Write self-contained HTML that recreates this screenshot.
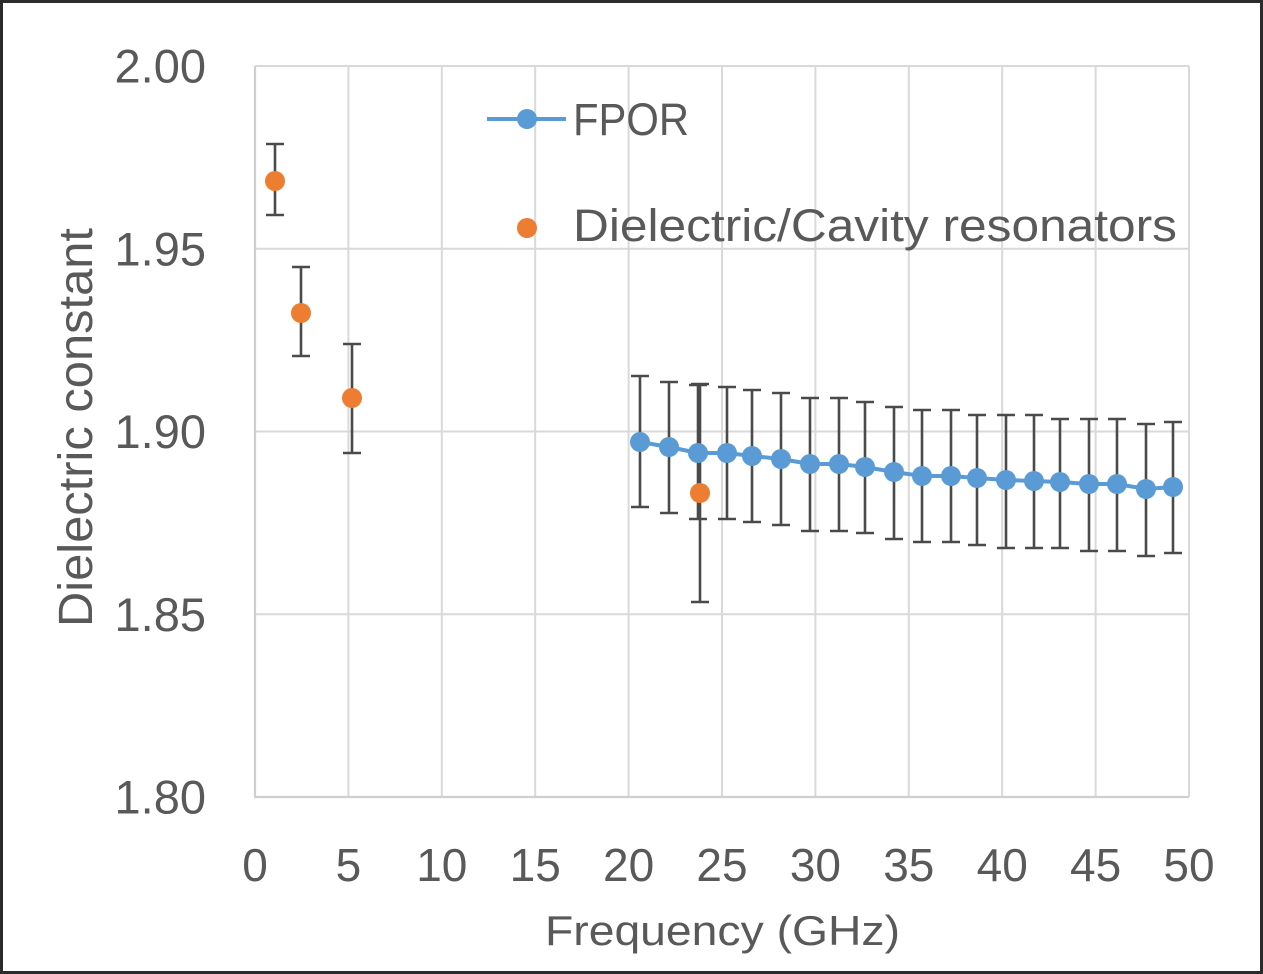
<!DOCTYPE html>
<html>
<head>
<meta charset="utf-8">
<style>
  html, body { margin: 0; padding: 0; background: #fff; }
  body { width: 1263px; height: 974px; overflow: hidden; }
  svg { display: block; }
  text { font-family: "Liberation Sans", sans-serif; fill: #595959; }
</style>
</head>
<body>
<svg width="1263" height="974" viewBox="0 0 1263 974" xmlns="http://www.w3.org/2000/svg">
  <rect x="0" y="0" width="1263" height="974" fill="#ffffff"/>
  <rect x="1.5" y="1.5" width="1260" height="971" fill="none" stroke="#2b2b2b" stroke-width="3"/>

  <!-- gridlines -->
  <g stroke="#d9d9d9" stroke-width="2" fill="none">
    <line x1="255" y1="66" x2="1189" y2="66"/>
    <line x1="255" y1="248.75" x2="1189" y2="248.75"/>
    <line x1="255" y1="431.5" x2="1189" y2="431.5"/>
    <line x1="255" y1="614.25" x2="1189" y2="614.25"/>
    <line x1="348.4" y1="66" x2="348.4" y2="797"/>
    <line x1="441.8" y1="66" x2="441.8" y2="797"/>
    <line x1="535.2" y1="66" x2="535.2" y2="797"/>
    <line x1="628.6" y1="66" x2="628.6" y2="797"/>
    <line x1="722" y1="66" x2="722" y2="797"/>
    <line x1="815.4" y1="66" x2="815.4" y2="797"/>
    <line x1="908.8" y1="66" x2="908.8" y2="797"/>
    <line x1="1002.2" y1="66" x2="1002.2" y2="797"/>
    <line x1="1095.6" y1="66" x2="1095.6" y2="797"/>
    <line x1="1189" y1="66" x2="1189" y2="797"/>
  </g>
  <g stroke="#cfcfcf" stroke-width="2.2" fill="none">
    <line x1="255" y1="66" x2="255" y2="797"/>
    <line x1="254" y1="797" x2="1189" y2="797"/>
  </g>

  <!-- y tick labels -->
  <g font-size="47" text-anchor="end">
    <text x="206" y="82.5">2.00</text>
    <text x="206" y="265.25">1.95</text>
    <text x="206" y="448">1.90</text>
    <text x="206" y="630.75">1.85</text>
    <text x="206" y="813.5">1.80</text>
  </g>

  <!-- x tick labels -->
  <g font-size="46" text-anchor="middle">
    <text x="255" y="881">0</text>
    <text x="348.4" y="881">5</text>
    <text x="441.8" y="881">10</text>
    <text x="535.2" y="881">15</text>
    <text x="628.6" y="881">20</text>
    <text x="722" y="881">25</text>
    <text x="815.4" y="881">30</text>
    <text x="908.8" y="881">35</text>
    <text x="1002.2" y="881">40</text>
    <text x="1095.6" y="881">45</text>
    <text x="1189" y="881">50</text>
  </g>

  <!-- axis titles -->
  <text x="545" y="945" font-size="42" textLength="355" lengthAdjust="spacingAndGlyphs">Frequency (GHz)</text>
  <text transform="translate(92,627) rotate(-90)" x="0" y="0" font-size="48" textLength="399" lengthAdjust="spacingAndGlyphs">Dielectric constant</text>

  <!-- FPOR error bars -->
  <g stroke="#4a4a4a" stroke-width="2.6" fill="none">
    <path d="M640 376V507M631 376H649M631 507H649"/>
    <path d="M669 382V513M660 382H678M660 513H678"/>
    <path d="M698 385V519M689 385H707M689 519H707"/>
    <path d="M727 387V519M718 387H736M718 519H736"/>
    <path d="M752 390V522M743 390H761M743 522H761"/>
    <path d="M781 393V525M772 393H790M772 525H790"/>
    <path d="M810 398V531M801 398H819M801 531H819"/>
    <path d="M839 398V531M830 398H848M830 531H848"/>
    <path d="M865 402V533M856 402H874M856 533H874"/>
    <path d="M894 407V539M885 407H903M885 539H903"/>
    <path d="M922 410V542M913 410H931M913 542H931"/>
    <path d="M951 410V542M942 410H960M942 542H960"/>
    <path d="M977 415V545M968 415H986M968 545H986"/>
    <path d="M1006 415V548M997 415H1015M997 548H1015"/>
    <path d="M1034 415V548M1025 415H1043M1025 548H1043"/>
    <path d="M1060 419V548M1051 419H1069M1051 548H1069"/>
    <path d="M1089 419V551M1080 419H1098M1080 551H1098"/>
    <path d="M1117 419V551M1108 419H1126M1108 551H1126"/>
    <path d="M1146 424V556M1137 424H1155M1137 556H1155"/>
    <path d="M1173 422V553M1164 422H1182M1164 553H1182"/>
  </g>

  <!-- orange error bars -->
  <g stroke="#4a4a4a" stroke-width="2.6" fill="none">
    <path d="M275 144V215M266 144H284M266 215H284"/>
    <path d="M301 267V356M292 267H310M292 356H310"/>
    <path d="M352 344V453M343 344H361M343 453H361"/>
    <path d="M700 384V602M691 384H709M691 602H709"/>
  </g>

  <!-- FPOR line + markers -->
  <polyline fill="none" stroke="#5b9bd5" stroke-width="4" stroke-linejoin="round"
    points="640,442 669,447 698,453 727,453 752,456 781,459 810,464 839,464 865,467 894,472 922,476 951,476 977,478 1006,480 1034,481 1060,482 1089,484 1117,484 1146,489 1173,487"/>
  <g fill="#5b9bd5">
    <circle cx="640" cy="442" r="10"/>
    <circle cx="669" cy="447" r="10"/>
    <circle cx="698" cy="453" r="10"/>
    <circle cx="727" cy="453" r="10"/>
    <circle cx="752" cy="456" r="10"/>
    <circle cx="781" cy="459" r="10"/>
    <circle cx="810" cy="464" r="10"/>
    <circle cx="839" cy="464" r="10"/>
    <circle cx="865" cy="467" r="10"/>
    <circle cx="894" cy="472" r="10"/>
    <circle cx="922" cy="476" r="10"/>
    <circle cx="951" cy="476" r="10"/>
    <circle cx="977" cy="478" r="10"/>
    <circle cx="1006" cy="480" r="10"/>
    <circle cx="1034" cy="481" r="10"/>
    <circle cx="1060" cy="482" r="10"/>
    <circle cx="1089" cy="484" r="10"/>
    <circle cx="1117" cy="484" r="10"/>
    <circle cx="1146" cy="489" r="10"/>
    <circle cx="1173" cy="487" r="10"/>
  </g>

  <!-- orange markers -->
  <g fill="#ed7d31">
    <circle cx="275" cy="181" r="10"/>
    <circle cx="301" cy="313" r="10"/>
    <circle cx="352" cy="398" r="10"/>
    <circle cx="700" cy="493" r="10"/>
  </g>

  <!-- legend -->
  <line x1="487" y1="119" x2="566" y2="119" stroke="#5b9bd5" stroke-width="4"/>
  <circle cx="527" cy="119" r="10" fill="#5b9bd5"/>
  <text x="573" y="135" font-size="45" textLength="116" lengthAdjust="spacingAndGlyphs">FPOR</text>
  <circle cx="527" cy="228" r="10" fill="#ed7d31"/>
  <text x="573" y="241" font-size="45" textLength="604" lengthAdjust="spacingAndGlyphs">Dielectric/Cavity resonators</text>
</svg>
</body>
</html>
